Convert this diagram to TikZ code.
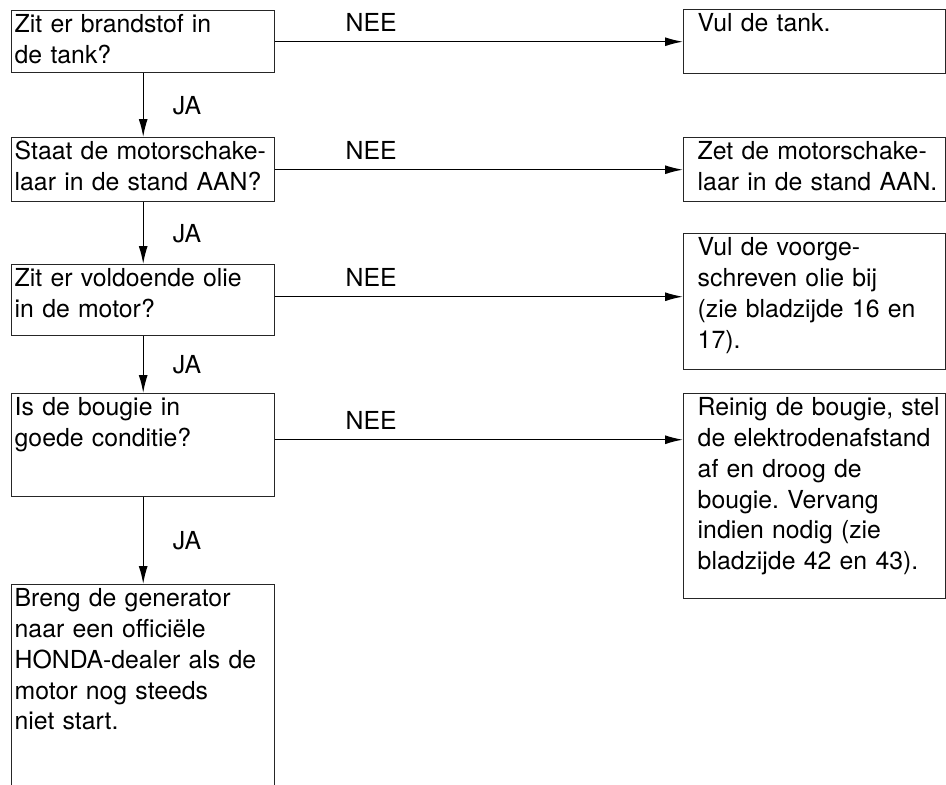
\documentclass[tikz,border=0pt]{standalone}
\usepackage{fontspec}
\setmainfont{TeX Gyre Heros}
\usepackage{tikz}
\usetikzlibrary{arrows.meta, positioning, calc}
\frenchspacing
\newcommand{\regels}[1]{\begin{tabular}[t]{@{}l@{}}#1\end{tabular}}
\tikzset{
  ask/.style = {rectangle, draw=black!85, line width=0.7pt, anchor=north west,
                text width=128.5pt, align=left, inner xsep=1.5pt, inner ysep=0pt,
                text height=11pt, font=\fontsize{12.4}{15.4}\selectfont},
  fix/.style = {ask, text width=117pt, inner xsep=7pt},
  arr/.style = {-{Latex[length=9pt,width=4.5pt]}, line width=0.7pt, draw=black},
  lbl/.style = {inner sep=0pt, font=\fontsize{12.4}{15}\selectfont}
}

\begin{document}
\begin{tikzpicture}[x=0.5pt, y=-0.5pt]
  \useasboundingbox (0,0) rectangle (946,784);
  % vragen (links)
  \node[ask, text depth=20pt]   (q1) at (11,10)  {Zit er brandstof in\\de tank?};
  \node[ask, text depth=21pt]   (q2) at (11,137) {Staat de motorschake-\\laar in de stand AAN?};
  \node[ask, text depth=24.5pt] (q3) at (11,264) {Zit er voldoende olie\\in de motor?};
  \node[ask, text depth=40.5pt] (q4) at (11,393) {Is de bougie in\\goede conditie?};
  \node[ask, text depth=97pt]   (q5) at (11,584) {Breng de generator\\naar een offici\"ele\\HONDA-dealer als de\\motor nog steeds\\niet start.};
  % oplossingen (rechts)
  \node[fix, text depth=21pt]   (r1) at (683,9)   {\regels{Vul de tank.}};
  \node[fix, text depth=21pt]   (r2) at (683,137) {\regels{Zet de motorschake-\\laar in de stand AAN.}};
  \node[fix, text depth=57pt]   (r3) at (683,233) {\regels{Vul de voorge-\\schreven olie bij\\(zie bladzijde 16 en\\17).}};
  \node[fix, text depth=91.5pt] (r4) at (683,393) {\regels{Reinig de bougie, stel\\de elektrodenafstand\\af en droog de\\bougie. Vervang\\indien nodig (zie\\bladzijde 42 en 43).}};
  \coordinate (n3) at ($(q3.east)+(0,1.75pt)$);
  \coordinate (n4) at ($(q4.east)+(0,2.75pt)$);
  % JA
  \draw[arr] (q1.south) -- node[lbl, midway, right=14.5pt] {JA} (q2.north);
  \draw[arr] (q2.south) -- node[lbl, midway, right=14.5pt] {JA} (q3.north);
  \draw[arr] (q3.south) -- node[lbl, midway, right=14.5pt] {JA} (q4.north);
  \draw[arr] (q4.south) -- node[lbl, midway, right=14.5pt] {JA} (q5.north);
  % NEE
  \draw[arr] (q1.east) -- node[lbl, pos=0.235, above=5pt] {NEE} (q1.east -| r1.west);
  \draw[arr] (q2.east) -- node[lbl, pos=0.235, above=5pt] {NEE} (q2.east -| r2.west);
  \draw[arr] (n3) -- node[lbl, pos=0.235, above=5pt] {NEE} (n3 -| r3.west);
  \draw[arr] (n4) -- node[lbl, pos=0.235, above=5pt] {NEE} (n4 -| r4.west);
\end{tikzpicture}
\end{document}
